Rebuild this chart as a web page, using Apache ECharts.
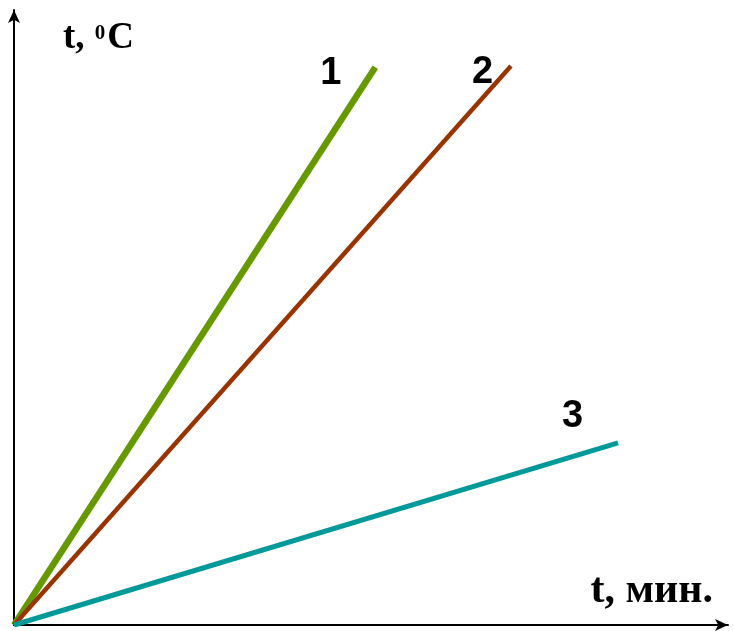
<!DOCTYPE html>
<html>
<head>
<meta charset="utf-8">
<script src="https://cdn.jsdelivr.net/npm/echarts@6/dist/echarts.min.js"></script>
<style>html,body{margin:0;padding:0;background:#fff}#c{width:734px;height:631px}</style>
</head>
<body>
<div id="c"></div>
<script>
// Data (arbitrary units, axes 0..100)
const lineNames = ['1', '2', '3'];
const line1 = [[0, 0], [50.6, 90.7]];
const line2 = [[0, 0], [69.6, 90.9]];
const line3 = [[0, 0], [84.6, 29.6]];
const xAxisTitle = 't, мин.';
const yAxisTitle = ['t, ', '0', 'C'];

const chart = echarts.init(document.getElementById('c'), null, {renderer: 'canvas'});
const labelStyle = {fontFamily: 'Liberation Sans', fontWeight: 'bold', fontSize: 38, color: '#000'};
chart.setOption({
  animation: false,
  backgroundColor: '#fff',
  grid: {left: 14, right: 6, top: 10, bottom: 6, containLabel: false},
  xAxis: {
    type: 'value', min: 0, max: 100,
    axisLine: {show: true, symbol: ['none', 'arrow'], symbolSize: [9, 13], lineStyle: {color: '#000', width: 2}},
    axisTick: {show: false}, axisLabel: {show: false}, splitLine: {show: false},
    name: xAxisTitle, nameLocation: 'end', nameGap: 0,
    nameTextStyle: {fontFamily: 'Liberation Serif', fontWeight: 'bold', fontSize: 42, color: '#000',
      align: 'right', verticalAlign: 'bottom', lineHeight: 44, padding: [0, 15, 12, 0]}
  },
  yAxis: {
    type: 'value', min: 0, max: 100,
    axisLine: {show: true, symbol: ['none', 'arrow'], symbolSize: [9, 13], lineStyle: {color: '#000', width: 2}},
    axisTick: {show: false}, axisLabel: {show: false}, splitLine: {show: false},
    name: '{a|' + yAxisTitle[0] + '}{s|' + yAxisTitle[1] + '}{a|' + yAxisTitle[2] + '}',
    nameLocation: 'end', nameGap: 0,
    nameTextStyle: {align: 'left', verticalAlign: 'top', padding: [8, 0, 0, 49],
      rich: {
        a: {fontFamily: 'Liberation Serif', fontWeight: 'bold', fontSize: 37, color: '#000', lineHeight: 40},
        s: {fontFamily: 'Liberation Serif', fontWeight: 'bold', fontSize: 21, color: '#000', lineHeight: 21, verticalAlign: 'top', padding: [5, 2, 0, 1]}
      }}
  },
  series: [
    {name: lineNames[0], type: 'line', data: line1, showSymbol: false, lineStyle: {color: '#669900', width: 6.5},
     endLabel: Object.assign({show: true, formatter: '{a}', offset: [-63, 6]}, labelStyle)},
    {name: lineNames[1], type: 'line', data: line2, showSymbol: false, lineStyle: {color: '#993300', width: 4.5},
     endLabel: Object.assign({show: true, formatter: '{a}', offset: [-47, 7]}, labelStyle)},
    {name: lineNames[2], type: 'line', data: line3, showSymbol: false, lineStyle: {color: '#009999', width: 5},
     endLabel: Object.assign({show: true, formatter: '{a}', offset: [-64, -26]}, labelStyle)}
  ]
});
</script>
</body>
</html>
